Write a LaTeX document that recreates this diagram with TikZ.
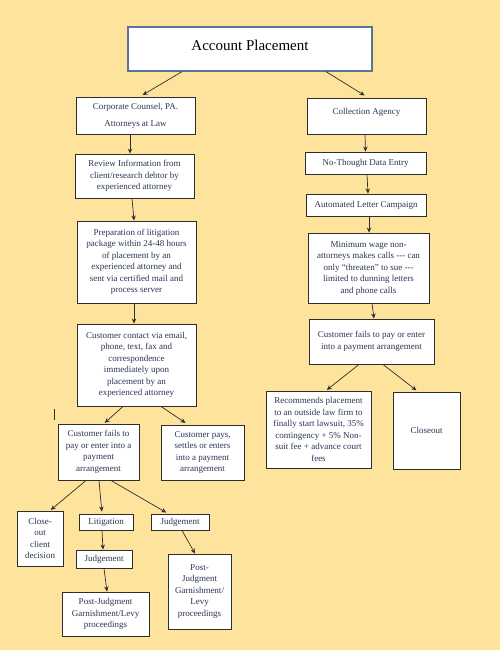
\documentclass[tikz,border=0pt]{standalone}
\usepackage{fontspec}
\setmainfont{Liberation Serif}
\usetikzlibrary{arrows,arrows.meta,positioning}

\definecolor{paper}{HTML}{FDE39C}
\definecolor{ink}{HTML}{2B3556}
\definecolor{edge}{HTML}{2E2E2E}
\definecolor{titleedge}{HTML}{5B7398}

\tikzset{
  box/.style={draw=edge, line width=0.9pt, fill=white, text=ink, align=center,
    inner sep=1pt, font=\fontsize{9}{11.5}\selectfont},
  titlebox/.style={draw=titleedge, line width=1.3pt, fill=white, text=black,
    font=\fontsize{15}{18}\selectfont, text depth=8pt},
  flow/.style={-{Stealth[length=5pt,width=4.5pt]}, draw=edge, line width=0.7pt}
}

\begin{document}
\begin{tikzpicture}
      [x=1pt, y=-1pt]
      \fill [paper] (0,0) rectangle (500,650);

      \node [titlebox, minimum width=244pt, minimum height=44pt] (place) at (250,49) {Account Placement};

      % law firm side
      \node [box, minimum width=119pt, minimum height=37pt] (counsel) at (135.5,115.5)
        {Corporate Counsel, PA.\\[5.5pt]Attorneys at Law};
      \node [box, minimum width=119pt, minimum height=44pt] (review) at (134.5,176)
        {Review Information from\\client/research debtor by\\experienced attorney};
      \node [box, minimum width=119pt, minimum height=82pt] (prep) at (136.5,262)
        {Preparation of litigation\\package within 24-48 hours\\of placement by an\\experienced attorney and\\sent via certified mail and\\process server};
      \node [box, minimum width=119pt, minimum height=82pt] (contact) at (136.5,365)
        {Customer contact via email,\\phone, text, fax and\\correspondence\\immediately upon\\placement by an\\experienced attorney};
      \node [box, minimum width=81pt, minimum height=56pt] (failsl) at (98.5,452)
        {Customer fails to\\pay or enter into a\\payment\\arrangement};
      \node [box, minimum width=83pt, minimum height=55pt] (pays) at (202.5,452.5)
        {Customer pays,\\settles or enters\\into a payment\\arrangement};
      \node [box, minimum width=46pt, minimum height=55pt] (closeclient) at (40,538.5)
        {Close-\\out\\client\\decision};
      \node [box, minimum width=54pt, minimum height=16pt] (litig) at (106,522) {Litigation};
      \node [box, minimum width=58pt, minimum height=16pt] (judgr) at (180,522) {Judgement};
      \node [box, minimum width=56pt, minimum height=18pt] (judgm) at (104,559) {Judgement};
      \node [box, minimum width=87pt, minimum height=44pt] (postm) at (105.5,614)
        {Post-Judgment\\Garnishment/Levy\\proceedings};
      \node [box, minimum width=63pt, minimum height=75pt] (postr) at (199.5,591.5)
        {Post-\\Judgment\\Garnishment/\\Levy\\proceedings};

      % agency side
      \node [box, minimum width=119pt, minimum height=36pt, text depth=8.8pt] (agency) at (366.5,116)
        {Collection Agency};
      \node [box, minimum width=121pt, minimum height=22pt] (entry) at (365.5,163) {No-Thought Data Entry};
      \node [box, minimum width=120pt, minimum height=22pt] (letters) at (366,205) {Automated Letter Campaign};
      \node [box, minimum width=121pt, minimum height=70pt] (minwage) at (368.5,268)
        {Minimum wage non-\\attorneys makes calls -{}-{}- can\\only “threaten” to sue -{}-{}-\\limited to dunning letters\\and phone calls};
      \node [box, minimum width=125pt, minimum height=45pt] (failsr) at (371.5,341.5)
        {Customer fails to pay or enter\\into a payment arrangement};
      \node [box, minimum width=105pt, minimum height=77pt] (recommend) at (318.5,429.5)
        {Recommends placement\\to an outside law firm to\\finally start lawsuit, 35\%\\contingency + 5\% Non-\\suit fee + advance court\\fees};
      \node [box, minimum width=67pt, minimum height=77pt] (closeout) at (426.5,430.5) {Closeout};

      \coordinate (cursor) at (54,409);
      \draw [edge, line width=0.8pt] (cursor) -- ++(0,11);

      \draw [flow, shorten >=3pt] ([xshift=-68pt]place.south) to ([xshift=4.5pt]counsel.north);
      \draw [flow, shorten >=4pt] ([xshift=76pt]place.south) to ([xshift=1.5pt]agency.north);
      \draw [flow] ([xshift=-5.5pt]counsel.south) to ([xshift=-4.5pt]review.north);
      \draw [flow] ([xshift=-2.5pt]review.south)  to ([xshift=-2.5pt]prep.north);
      \draw [flow] ([xshift=-2.5pt]prep.south)    to ([xshift=-2.5pt]contact.north);
      \draw [flow, shorten >=1pt] ([xshift=-13.5pt]contact.south) to ([xshift=5.5pt]failsl.north);
      \draw [flow, shorten >=3pt] ([xshift=24.5pt]contact.south)  to ([xshift=-14.5pt]pays.north);
      \draw [flow, shorten >=1pt] ([xshift=-12.5pt]failsl.south) to ([xshift=10pt]closeclient.north);
      \draw [flow, shorten >=2pt] ([xshift=0.5pt]failsl.south)   to ([xshift=-4pt]litig.north);
      \draw [flow, shorten >=2pt] ([xshift=12.5pt]failsl.south)  to ([xshift=-12pt]judgr.north);
      \draw [flow] ([xshift=-4pt]litig.south) to ([xshift=-1pt]judgm.north);
      \draw [flow] (judgm.south) to ([xshift=1.5pt]postm.north);
      \draw [flow] ([xshift=2pt]judgr.south) to ([xshift=-4.5pt]postr.north);

      \draw [flow] ([xshift=-1.5pt]agency.south) to (entry.north);
      \draw [flow] ([xshift=1.5pt]entry.south)   to ([xshift=2pt]letters.north);
      \draw [flow] ([xshift=3pt]letters.south)   to ([xshift=0.5pt]minwage.north);
      \draw [flow] ([xshift=3.5pt]minwage.south) to ([xshift=2.5pt]failsr.north);
      \draw [flow, shorten >=1pt] ([xshift=-12.5pt]failsr.south) to ([xshift=7.5pt]recommend.north);
      \draw [flow, shorten >=2pt] ([xshift=11.5pt]failsr.south)  to ([xshift=-8.5pt]closeout.north);
    \end{tikzpicture}
\end{document}
